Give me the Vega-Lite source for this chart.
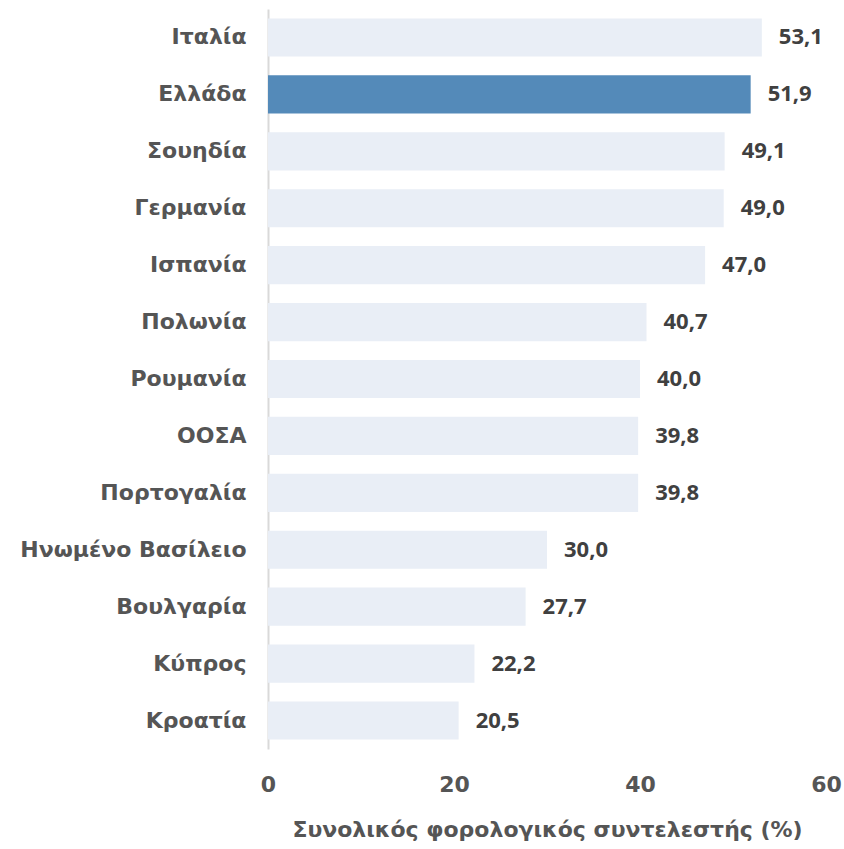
{
  "$schema": "https://vega.github.io/schema/vega-lite/v6.json",
  "width": 558,
  "height": 740,
  "autosize": "none",
  "padding": {"left": 268, "top": 9, "right": 18, "bottom": 100},
  "background": "white",
  "config": {
    "view": {"stroke": null},
    "font": "DejaVu Sans",
    "locale": {"number": {"decimal": ",", "thousands": ".", "grouping": [3], "currency": ["", " €"]}}
  },
  "data": {
    "values": [
      {"country": "Ιταλία", "value": 53.1},
      {"country": "Ελλάδα", "value": 51.9},
      {"country": "Σουηδία", "value": 49.1},
      {"country": "Γερμανία", "value": 49.0},
      {"country": "Ισπανία", "value": 47.0},
      {"country": "Πολωνία", "value": 40.7},
      {"country": "Ρουμανία", "value": 40.0},
      {"country": "ΟΟΣΑ", "value": 39.8},
      {"country": "Πορτογαλία", "value": 39.8},
      {"country": "Ηνωμένο Βασίλειο", "value": 30.0},
      {"country": "Βουλγαρία", "value": 27.7},
      {"country": "Κύπρος", "value": 22.2},
      {"country": "Κροατία", "value": 20.5}
    ]
  },
  "encoding": {
    "y": {
      "field": "country", "type": "nominal", "sort": null,
      "scale": {"paddingInner": 0.33, "paddingOuter": 0.165},
      "axis": {
        "title": null, "ticks": false, "domain": true, "domainColor": "#d9d9d9", "domainWidth": 2,
        "labelFont": "DejaVu Sans", "labelFontSize": 22, "labelFontWeight": "bold", "labelColor": "#555555",
        "labelPadding": 22, "labelLimit": 0
      }
    },
    "x": {
      "field": "value", "type": "quantitative",
      "scale": {"domain": [0, 60], "nice": false},
      "axis": {
        "values": [0, 20, 40, 60], "grid": false, "domain": false, "ticks": false,
        "labelFont": "DejaVu Sans", "labelFontSize": 22, "labelFontWeight": "bold", "labelColor": "#555555",
        "labelPadding": 25, "labelFlush": false,
        "title": "Συνολικός φορολογικός συντελεστής (%)",
        "titleFont": "DejaVu Sans", "titleFontSize": 22, "titleFontWeight": "bold", "titleColor": "#555555",
        "titlePadding": 24
      }
    }
  },
  "layer": [
    {
      "mark": {"type": "bar"},
      "encoding": {
        "color": {
          "condition": {"test": "datum.country === 'Ελλάδα'", "value": "#548ab9"},
          "value": "#e9eef6"
        }
      }
    },
    {
      "mark": {"type": "text", "align": "left", "dx": 17, "font": "Open Sans", "fontSize": 22, "fontWeight": "bold", "color": "#404040"},
      "encoding": {
        "text": {"field": "value", "type": "quantitative", "format": ".1f"}
      }
    }
  ]
}
